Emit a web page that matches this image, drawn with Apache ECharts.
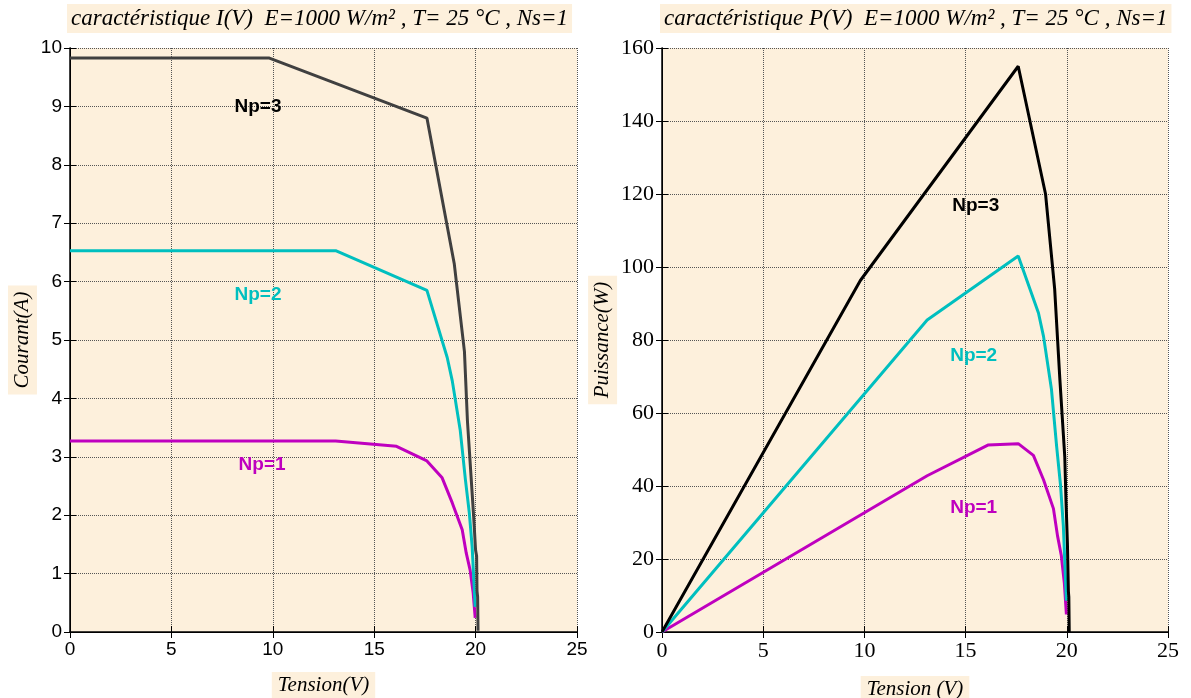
<!DOCTYPE html>
<html lang="fr">
<head>
<meta charset="UTF-8">
<title>Caractéristiques I(V) et P(V)</title>
<script src="https://cdn.jsdelivr.net/npm/echarts@6/dist/echarts.min.js"></script>
<style>
  html, body { margin: 0; padding: 0; background: #fff; }
  #chart { width: 1191px; height: 698px; }
</style>
</head>
<body>
<div id="chart"></div>
<script>
// courbes I(V) : [tension, courant]
var iv_np3 = [[0, 9.83], [9.8, 9.83], [17.6, 8.8], [18.95, 6.3], [19.45, 4.8], [19.6, 3.6], [19.9, 2.0], [20.0, 1.4], [20.05, 1.3], [20.07, 0.7], [20.1, 0.6], [20.12, 0.02]];
var iv_np2 = [[0, 6.53], [13.1, 6.53], [17.6, 5.85], [18.6, 4.7], [18.85, 4.3], [19.24, 3.46], [19.5, 2.6], [19.69, 2.04], [19.83, 1.46], [19.93, 0.77], [19.98, 0.43]];
var iv_np1 = [[0, 3.27], [13.1, 3.27], [16.1, 3.18], [17.6, 2.93], [18.35, 2.64], [18.85, 2.21], [19.34, 1.75], [19.54, 1.35], [19.73, 1.06], [19.88, 0.67], [19.98, 0.24]];

// courbes P(V) : [tension, puissance]
var pv_np3 = [[0, 0], [9.8, 96.3], [17.6, 155], [18.95, 120], [19.4, 94], [19.66, 69], [19.9, 48], [19.96, 36], [20.03, 24.4], [20.08, 11], [20.1, 9.6], [20.12, 0]];
var pv_np2 = [[0, 0], [13.1, 85.5], [17.6, 103], [18.6, 87.4], [18.85, 81], [19.24, 66.6], [19.5, 50.7], [19.69, 40.2], [19.83, 29], [19.93, 15.3], [19.98, 8.6]];
var pv_np1 = [[0, 0], [13.1, 42.8], [16.1, 51.2], [17.6, 51.6], [18.35, 48.4], [18.85, 41.7], [19.34, 33.8], [19.54, 26.4], [19.73, 20.9], [19.88, 13.3], [19.98, 4.8]];

// position des étiquettes Np=... (en unités des axes)
var ivLabels = [[9.27, 8.99], [9.27, 5.77], [9.47, 2.86]];
var pvLabels = [[15.5, 116.7], [15.4, 75.6], [15.4, 34]];
var labelText = ['Np=3', 'Np=2', 'Np=1'];

var beige = '#FDF0DC';
var cyan = '#00BFBF';
var magenta = '#BF00BF';

var chart = echarts.init(document.getElementById('chart'));

function xAxisOf(gi, font, size, name, gap) {
    return [{
        gridIndex: gi, type: 'value', min: 0, max: 25, interval: 5,
        name: name, nameLocation: 'middle', nameGap: gap,
        nameTextStyle: {fontFamily: 'Liberation Serif', fontStyle: 'italic', fontSize: 21, color: '#000',
            backgroundColor: beige, padding: [3, 6, 3, 6]},
        axisLine: {show: true, lineStyle: {color: '#000', width: 1.5}},
        axisTick: {show: true, inside: true, length: 6, lineStyle: {color: '#000'}},
        axisLabel: {fontFamily: font, fontSize: size, color: '#000', margin: 8},
        splitLine: {show: true, lineStyle: {type: 'dotted', color: '#555', width: 1}}
    }, {
        gridIndex: gi, type: 'value', min: 0, max: 25, interval: 5, position: 'top',
        axisLine: {show: true, lineStyle: {color: '#000', width: 1}},
        axisTick: {show: true, inside: true, length: 6, lineStyle: {color: '#000'}},
        axisLabel: {show: false}, splitLine: {show: false}
    }];
}

function yAxisOf(gi, max, step, font, size, name, gap) {
    return [{
        gridIndex: gi, type: 'value', min: 0, max: max, interval: step,
        name: name, nameLocation: 'middle', nameGap: gap, nameRotate: 90,
        nameTextStyle: {fontFamily: 'Liberation Serif', fontStyle: 'italic', fontSize: 21, color: '#000',
            backgroundColor: beige, padding: [4, 6, 4, 6]},
        axisLine: {show: true, lineStyle: {color: '#000', width: 1.5}},
        axisTick: {show: true, inside: true, length: 6, lineStyle: {color: '#000'}},
        axisLabel: {fontFamily: font, fontSize: size, color: '#000', margin: 8},
        splitLine: {show: true, lineStyle: {type: 'dotted', color: '#555', width: 1}}
    }, {
        gridIndex: gi, type: 'value', min: 0, max: max, interval: step, position: 'right',
        axisLine: {show: true, lineStyle: {color: '#000', width: 1}},
        axisTick: {show: true, inside: true, length: 6, lineStyle: {color: '#000'}},
        axisLabel: {show: false}, splitLine: {show: false}
    }];
}

function curve(data, color, xi, yi, lab, text) {
    return {
        type: 'line', data: data, xAxisIndex: xi, yAxisIndex: yi,
        showSymbol: false, lineStyle: {color: color, width: 3}, itemStyle: {color: color},
        markPoint: {
            symbol: 'circle', symbolSize: 0,
            data: [{coord: lab, value: text}],
            label: {show: true, position: 'inside', formatter: text, color: color,
                fontFamily: 'Liberation Sans', fontWeight: 'bold', fontSize: 19}
        }
    };
}

var titleFont = {fontFamily: 'Liberation Serif', fontStyle: 'italic', fontWeight: 'normal', fontSize: 23, color: '#000'};

var option = {
    animation: false,
    backgroundColor: '#fff',
    title: [{
        text: 'caractéristique I(V)  E=1000 W/m² , T= 25 °C , Ns=1',
        left: 67, top: 4, backgroundColor: beige, padding: [3, 4, 3, 4],
        textStyle: titleFont
    }, {
        text: 'caractéristique P(V)  E=1000 W/m² , T= 25 °C , Ns=1',
        left: 660, top: 4, backgroundColor: beige, padding: [3, 4, 3, 4],
        textStyle: titleFont
    }],
    grid: [
        {left: 70, right: 614, top: 48, bottom: 66, show: true, backgroundColor: beige, borderWidth: 0, outerBoundsMode: 'none'},
        {left: 662, right: 23, top: 48, bottom: 66, show: true, backgroundColor: beige, borderWidth: 0, outerBoundsMode: 'none'}
    ],
    xAxis: xAxisOf(0, 'Liberation Sans', 19, 'Tension(V)', 40)
        .concat(xAxisOf(1, 'Liberation Serif', 22, 'Tension (V)', 44)),
    yAxis: yAxisOf(0, 10, 1, 'Liberation Sans', 19, 'Courant(A)', 33)
        .concat(yAxisOf(1, 160, 20, 'Liberation Serif', 22, 'Puissance(W)', 42)),
    series: [
        curve(iv_np1, magenta, 0, 0, ivLabels[2], labelText[2]),
        curve(iv_np2, cyan, 0, 0, ivLabels[1], labelText[1]),
        curve(iv_np3, '#404040', 0, 0, ivLabels[0], labelText[0]),
        curve(pv_np1, magenta, 2, 2, pvLabels[2], labelText[2]),
        curve(pv_np2, cyan, 2, 2, pvLabels[1], labelText[1]),
        curve(pv_np3, '#000', 2, 2, pvLabels[0], labelText[0])
    ]
};
// Np=3 label of the I(V) chart is drawn black
option.series[2].markPoint.label.color = '#000';
chart.setOption(option);
</script>
</body>
</html>
